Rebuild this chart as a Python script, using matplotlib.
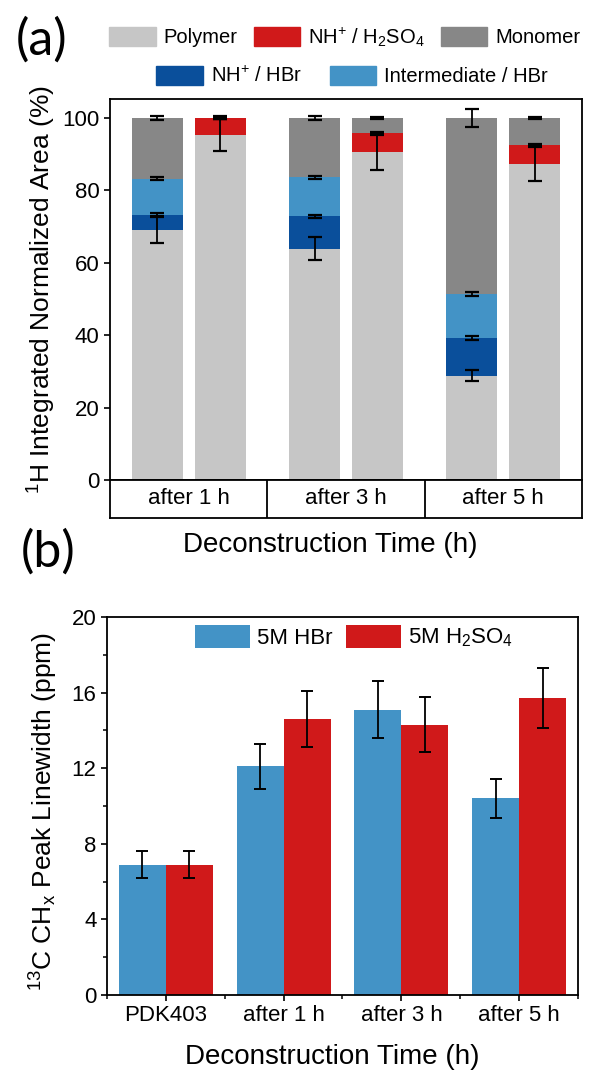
import numpy as np
import matplotlib
matplotlib.use('Agg')
import matplotlib.pyplot as plt
from matplotlib.patches import Patch

plt.rcParams['font.family'] = 'Liberation Sans'
plt.rcParams['mathtext.fontset'] = 'custom'
plt.rcParams['mathtext.rm'] = 'Liberation Sans'
plt.rcParams['mathtext.it'] = 'Liberation Sans:italic'

# panel (a): stacked composition, HBr vs H2SO4
times = ['after 1 h', 'after 3 h', 'after 5 h']
hbr_polymer = [68.9, 63.9, 28.8]
hbr_nh = [4.3, 8.9, 10.4]
hbr_inter = [10.0, 10.8, 12.2]
hbr_monomer = [16.8, 16.4, 48.6]
h2so4_polymer = [95.3, 90.5, 87.3]
h2so4_nh = [4.7, 5.3, 5.2]
h2so4_monomer = [0.0, 4.2, 7.5]

hbr_polymer_err = [3.6, 3.2, 1.6]
hbr_nh_err = [0.4, 0.4, 0.6]
hbr_inter_err = [0.5, 0.4, 0.6]
hbr_monomer_err = [0.6, 0.6, 2.5]
h2so4_polymer_err = [4.5, 4.8, 4.7]
h2so4_nh_err = [0.4, 0.4, 0.4]
h2so4_monomer_err = [0.3, 0.3, 0.3]

# panel (b): 13C linewidths
samples = ['PDK403', 'after 1 h', 'after 3 h', 'after 5 h']
lw_hbr = [6.9, 12.1, 15.1, 10.4]
lw_hbr_err = [0.7, 1.2, 1.5, 1.05]
lw_h2so4 = [6.9, 14.6, 14.3, 15.7]
lw_h2so4_err = [0.7, 1.5, 1.45, 1.6]

c_poly = '#c6c6c6'
c_mono = '#878787'
c_red = '#d0191a'
c_dblue = '#0a4f9b'
c_lblue = '#4393c6'

fs_tick = 16
fs_lab = 19

fig = plt.figure(figsize=(5.97, 10.70), dpi=100)

# ---------- (a) ----------
ax = fig.add_axes([0.1843, 0.5514, 0.7906, 0.3561])
x = np.arange(len(times))
w = 0.325
off = 0.2
ekw = dict(fmt='none', ecolor='k', elinewidth=1.3, capsize=5, capthick=1.6, zorder=5)

bottom = np.zeros(3)
for vals, errs, col in [(hbr_polymer, hbr_polymer_err, c_poly), (hbr_nh, hbr_nh_err, c_dblue),
                        (hbr_inter, hbr_inter_err, c_lblue), (hbr_monomer, hbr_monomer_err, c_mono)]:
    ax.bar(x - off, vals, w, bottom=bottom, color=col, linewidth=0)
    bottom = bottom + np.array(vals)
    ax.errorbar(x - off, bottom, yerr=errs, **ekw)

bottom = np.zeros(3)
for vals, errs, col in [(h2so4_polymer, h2so4_polymer_err, c_poly), (h2so4_nh, h2so4_nh_err, c_red),
                        (h2so4_monomer, h2so4_monomer_err, c_mono)]:
    ax.bar(x + off, vals, w, bottom=bottom, color=col, linewidth=0)
    bottom = bottom + np.array(vals)
    ax.errorbar(x + off, bottom, yerr=errs, **ekw)

ax.set_xlim(-0.5, 2.5)
ax.set_ylim(0, 105.2)
ax.set_xticks([])
ax.set_yticks(range(0, 101, 20))
ax.tick_params(axis='y', direction='out', length=4, width=1.2, labelsize=fs_tick)
for s in ax.spines.values():
    s.set_linewidth(1.3)

cax = fig.add_axes([0.1843, 0.5159, 0.7906, 0.0355])
cax.set_xlim(-0.5, 2.5)
cax.set_ylim(0, 1)
cax.set_xticks([])
cax.set_yticks([])
for s in cax.spines.values():
    s.set_linewidth(1.3)
for d in [0.5, 1.5]:
    cax.axvline(d, color='k', lw=1.3)
for i, t in enumerate(times):
    cax.text(i, 0.5, t, ha='center', va='center', fontsize=fs_tick)

fig.text(0.553, 0.4907, 'Deconstruction Time (h)', ha='center', va='center', fontsize=fs_lab + 1)
fig.text(0.0704, 0.729, '$^{1}$H Integrated Normalized Area (%)', rotation=90,
         ha='center', va='center', fontsize=fs_lab)

leg1 = [Patch(color=c_poly, label='Polymer'),
        Patch(color=c_red, label='NH$^{+}$ / H$_2$SO$_4$'),
        Patch(color=c_mono, label='Monomer')]
leg2 = [Patch(color=c_dblue, label='NH$^{+}$ / HBr'),
        Patch(color=c_lblue, label='Intermediate / HBr')]
fig.legend(handles=leg1, loc='center', bbox_to_anchor=(0.578, 0.9654), ncol=3, frameon=False,
           fontsize=14.5, handlelength=2.3, handleheight=1.05, handletextpad=0.4, columnspacing=0.8)
fig.legend(handles=leg2, loc='center', bbox_to_anchor=(0.59, 0.929), ncol=2, frameon=False,
           fontsize=14.5, handlelength=2.3, handleheight=1.05, handletextpad=0.4, columnspacing=1.4)

fig.text(0.0704, 0.9626, '(a)', ha='center', va='center', fontsize=36, family='Lato')

# ---------- (b) ----------
bx = fig.add_axes([0.1792, 0.0701, 0.789, 0.3533])
xb = np.arange(len(samples))
bw = 0.4
bx.bar(xb - bw / 2, lw_hbr, bw, color=c_lblue, linewidth=0, label='5M HBr')
bx.bar(xb + bw / 2, lw_h2so4, bw, color=c_red, linewidth=0, label='5M H$_2$SO$_4$')
bx.errorbar(xb - bw / 2, lw_hbr, yerr=lw_hbr_err, fmt='none', ecolor='k', elinewidth=1.3,
            capsize=4.5, capthick=1.4)
bx.errorbar(xb + bw / 2, lw_h2so4, yerr=lw_h2so4_err, fmt='none', ecolor='k', elinewidth=1.3,
            capsize=4.5, capthick=1.4)
bx.set_xlim(-0.5, 3.5)
bx.set_ylim(0, 20)
bx.set_xticks(xb)
bx.set_xticklabels(samples)
bx.set_xticks(np.arange(-0.5, 3.6, 1.0), minor=True)
bx.set_yticks(range(0, 21, 4))
bx.set_yticks(range(2, 20, 4), minor=True)
bx.tick_params(which='major', direction='out', length=4, width=1.2, labelsize=fs_tick)
bx.tick_params(which='minor', direction='out', length=3, width=1.1)
for s in bx.spines.values():
    s.set_linewidth(1.3)
bx.legend(loc='center', bbox_to_anchor=(0.524, 0.947), ncol=2, frameon=False, fontsize=fs_tick,
          handlelength=2.5, handleheight=1.25, handletextpad=0.3, columnspacing=0.6)

fig.text(0.556, 0.0121, 'Deconstruction Time (h)', ha='center', va='center', fontsize=fs_lab + 1)
fig.text(0.0737, 0.242, '$^{13}$C CH$_\\mathregular{x}$ Peak Linewidth (ppm)', rotation=90,
         ha='center', va='center', fontsize=fs_lab)
fig.text(0.0804, 0.484, '(b)', ha='center', va='center', fontsize=36, family='Lato')

fig.savefig('out.png', dpi=100)
